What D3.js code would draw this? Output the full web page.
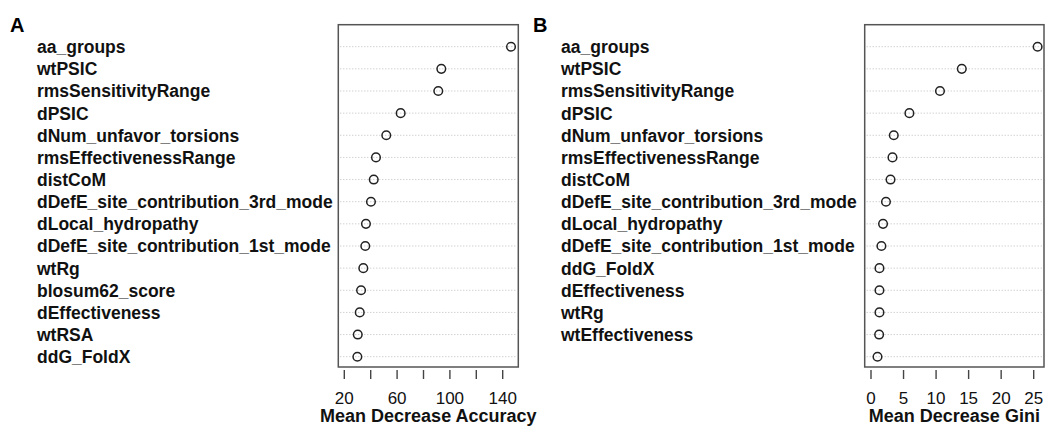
<!DOCTYPE html>
<html>
<head>
<meta charset="utf-8">
<script src="https://cdn.jsdelivr.net/npm/d3@7"></script>
<style>
  body { margin: 0; background: #fff; }
  text { font-family: "Liberation Sans", Arial, Helvetica, sans-serif; }
</style>
</head>
<body>
<svg id="viz" width="1046" height="427"></svg>
<script>
const width = 1046;
const height = 427;
const svg = d3.select("#viz");

// Panel A: Mean Decrease Accuracy
const labelsA = ["aa_groups", "wtPSIC", "rmsSensitivityRange", "dPSIC", "dNum_unfavor_torsions",
  "rmsEffectivenessRange", "distCoM", "dDefE_site_contribution_3rd_mode", "dLocal_hydropathy",
  "dDefE_site_contribution_1st_mode", "wtRg", "blosum62_score", "dEffectiveness", "wtRSA", "ddG_FoldX"];
const valuesA = [146.3, 93.5, 91.2, 62.7, 51.8, 44.0, 42.3, 40.2, 36.4, 35.9, 34.4, 32.7, 31.7, 30.2, 29.9];
const ticksA = [20, 40, 60, 80, 100, 120, 140];
const tickLabelsA = [20, 60, 100, 140];

// Panel B: Mean Decrease Gini (last row has no label in the original)
const labelsB = ["aa_groups", "wtPSIC", "rmsSensitivityRange", "dPSIC", "dNum_unfavor_torsions",
  "rmsEffectivenessRange", "distCoM", "dDefE_site_contribution_3rd_mode", "dLocal_hydropathy",
  "dDefE_site_contribution_1st_mode", "ddG_FoldX", "dEffectiveness", "wtRg", "wtEffectiveness", ""];
const valuesB = [25.6, 13.95, 10.6, 5.9, 3.5, 3.3, 3.0, 2.3, 1.85, 1.6, 1.3, 1.3, 1.3, 1.25, 1.0];
const ticksB = [0, 5, 10, 15, 20, 25];
const tickLabelsB = [0, 5, 10, 15, 20, 25];

const panels = [
  { tag: "A", labels: labelsA, values: valuesA, ticks: ticksA, tickLabels: tickLabelsA,
    title: "Mean Decrease Accuracy", tagX: 10, labelX: 37, box: [338.3, 518.3],
    x: d3.scaleLinear().domain([20, 140]).range([344.3, 502.7]) },
  { tag: "B", labels: labelsB, values: valuesB, ticks: ticksB, tickLabels: tickLabelsB,
    title: "Mean Decrease Gini", tagX: 533, labelX: 561, box: [864.7, 1044],
    x: d3.scaleLinear().domain([0, 25]).range([871, 1033.7]) }
];

const boxTop = 24.7, boxBottom = 367;

panels.forEach(p => {
  const g = svg.append("g");
  const y = d3.scalePoint().domain(d3.range(p.values.length)).range([46.7, 356.7]);

  // 点線のガイド
  g.selectAll(".grid")
    .data(p.values)
    .enter().append("line")
    .attr("x1", p.box[0] + 2)
    .attr("x2", p.box[1] - 2)
    .attr("y1", (d, i) => y(i))
    .attr("y2", (d, i) => y(i))
    .attr("stroke", "#bdbdbd")
    .attr("stroke-width", 1)
    .attr("stroke-dasharray", "1,2");

  // 枠
  g.append("rect")
    .attr("x", p.box[0])
    .attr("y", boxTop)
    .attr("width", p.box[1] - p.box[0])
    .attr("height", boxBottom - boxTop)
    .attr("fill", "none")
    .attr("stroke", "#555")
    .attr("stroke-width", 1.5);

  // 点
  g.selectAll(".pt")
    .data(p.values)
    .enter().append("circle")
    .attr("cx", d => p.x(d))
    .attr("cy", (d, i) => y(i))
    .attr("r", 4.3)
    .attr("fill", "none")
    .attr("stroke", "#222")
    .attr("stroke-width", 1.5);

  // 変数名
  g.selectAll(".lab")
    .data(p.labels)
    .enter().append("text")
    .attr("x", p.labelX)
    .attr("y", (d, i) => y(i) + 6.5)
    .attr("font-size", 17.5)
    .attr("font-weight", "bold")
    .attr("fill", "#111")
    .text(d => d);

  // 目盛り
  g.selectAll(".tick")
    .data(p.ticks)
    .enter().append("line")
    .attr("x1", d => p.x(d))
    .attr("x2", d => p.x(d))
    .attr("y1", 370)
    .attr("y2", 379)
    .attr("stroke", "#444")
    .attr("stroke-width", 1.4);

  g.selectAll(".ticklab")
    .data(p.tickLabels)
    .enter().append("text")
    .attr("x", d => p.x(d))
    .attr("y", 404)
    .attr("text-anchor", "middle")
    .attr("font-size", 17)
    .attr("fill", "#111")
    .text(d => d);

  g.append("text")
    .attr("x", (p.box[0] + p.box[1]) / 2)
    .attr("y", 422)
    .attr("text-anchor", "middle")
    .attr("font-size", 18)
    .attr("font-weight", "bold")
    .attr("fill", "#111")
    .text(p.title);

  g.append("text")
    .attr("x", p.tagX)
    .attr("y", 32)
    .attr("font-size", 20)
    .attr("font-weight", "bold")
    .attr("fill", "#000")
    .text(p.tag);
});
</script>
</body>
</html>
